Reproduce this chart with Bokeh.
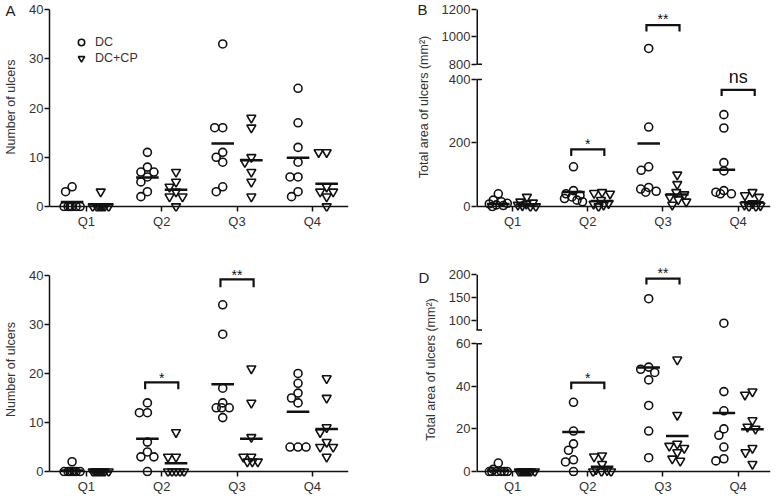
import numpy as np
from bokeh.plotting import figure
from bokeh.models import (Range1d, FixedTicker, Legend, LegendItem, Label, Whisker,
                          TeeHead, ColumnDataSource, Span)
from bokeh.layouts import row, column
from bokeh.core.properties import value
from bokeh.embed import file_html
from bokeh.resources import INLINE

FONT = "Liberation Sans"
INK = "#111111"
TXT = "#333333"

quarters = ["Q1", "Q2", "Q3", "Q4"]
qpos = [1, 2, 3, 4]
series_names = ["DC", "DC+CP"]

# ---------------- Panel A: number of ulcers ----------------
A_dc = [[4, 3, 0, 0, 0, 0, 0, 0],
        [11, 8, 7, 7, 6, 5, 3, 2],
        [33, 16, 16, 11, 10, 9, 4, 3],
        [24, 17, 12, 9, 6, 6, 3, 2]]
A_cp = [[3, 0, 0, 0, 0, 0, 0, 0],
        [7, 5, 4, 3, 2, 2, 0],
        [18, 16, 10, 9, 7, 5, 2],
        [11, 11, 4, 3, 3, 2, 0]]
A_dc_mean = [0.9, 5.9, 12.8, 9.9]
A_cp_mean = [0.4, 3.4, 9.4, 4.6]
A_yticks = [0, 10, 20, 30, 40]

# ---------------- Panel B: total area (mm2) ----------------
B_dc = [[40, 20, 15, 10, 8, 5, 3, 0],
        [125, 50, 40, 35, 30, 25, 20, 15],
        [915, 250, 125, 114, 60, 55, 48, 45],
        [289, 247, 138, 112, 50, 45, 40, 40]]
B_cp = [[30, 15, 12, 8, 5, 3, 0, 0],
        [45, 42, 40, 20, 10, 8, 5, 0],
        [100, 70, 45, 38, 30, 22, 15, 5],
        [45, 35, 30, 10, 5, 3, 0, 0]]
B_dc_mean = [8, 46, 198, 116]
B_cp_mean = [6, 17, 38, 13]
B_yticks = [0, 200, 400, 800, 1000, 1200]
B_sig_q = [2, 3, 4]
B_sig_top = [180, 1086, 367]
B_sig_foot = [159, 1039, 348]
B_sig_text_y = [208, 1154, 405]
B_sig_text = ["*", "**", "ns"]

# ---------------- Panel C: number of ulcers ----------------
C_dc = [[2, 0, 0, 0, 0, 0, 0, 0],
        [14, 12, 12, 6, 4, 3, 3, 0],
        [34, 28, 17, 14, 13, 13, 13, 11],
        [20, 18, 16, 15, 14, 5, 5, 5]]
C_cp = [[0, 0, 0, 0, 0, 0, 0, 0],
        [8, 3, 3, 0, 0, 0, 0, 0],
        [21, 14, 7, 3, 3, 2, 2, 2],
        [19, 15, 9, 8, 6, 5, 5, 3]]
C_dc_mean = [0.2, 6.7, 17.8, 12.2]
C_cp_mean = [0.0, 1.7, 6.7, 8.7]
C_yticks = [0, 10, 20, 30, 40]
C_sig_q = [2, 3]
C_sig_top = [18.2, 39.2]
C_sig_foot = [16.8, 37.6]
C_sig_text_y = [19.8, 40.7]
C_sig_text = ["*", "**"]

# ---------------- Panel D: total area (mm2) ----------------
D_dc = [[4, 1, 0, 0, 0, 0, 0, 0],
        [32.5, 19, 13, 10, 5.5, 4.5, 0],
        [148, 49, 48, 46.5, 43, 31, 19, 6.5],
        [95, 37.5, 28.5, 20, 17, 11.5, 6, 5]]
D_cp = [[0, 0, 0, 0, 0, 0, 0, 0],
        [7.5, 7, 3.5, 1, 0.5, 0, 0, 0],
        [52.5, 26.5, 13, 12, 11, 9, 6, 5],
        [37.5, 36, 24, 21, 20, 11, 9, 3.5]]
D_dc_mean = [0.5, 18.5, 48.8, 27.5]
D_cp_mean = [0.2, 2.3, 16.7, 19.8]
D_yticks = [0, 20, 40, 60, 100, 150, 200]
D_sig_q = [2, 3]
D_sig_top = [41.7, 191.4]
D_sig_foot = [38.6, 178.6]
D_sig_text_y = [45.6, 210.7]
D_sig_text = ["*", "**"]

LAB_COUNT = "Number of ulcers"
LAB_AREA = "Total area of ulcers (mm\u00b2)"


def identity(v):
    return np.asarray(v, dtype=float)


def make_break(lo_top, hi_bot, gap, k):
    def f(v):
        v = np.asarray(v, dtype=float)
        return np.where(v < hi_bot, v, lo_top + gap + (v - hi_bot) * k)
    return f


def swarm(ypix, diam=8.0, cap=9.0, step=0.5):
    ypix = np.asarray(ypix, dtype=float)
    n = len(ypix)
    order = np.argsort(-ypix, kind="stable")
    cands = sorted(np.arange(-cap, cap + 1e-9, step), key=lambda c: (abs(c), c))
    placed = []
    offs = np.zeros(n)
    for i in order:
        best, bestd = 0.0, -1.0
        for c in cands:
            md = min((np.hypot(c - ox, ypix[i] - oy) for ox, oy in placed), default=np.inf)
            if md >= diam:
                best = c
                break
            if md > bestd + 1e-9:
                bestd, best = md, c
        offs[i] = best
        placed.append((best, ypix[i]))
    return offs


def panel(width, height, mbl, mbr, mbt, mbb, xr, zero_px, top_px, tf,
          dc, cp, dc_mean, cp_mean, yticks, ylabel, letter, letter_px, letter_side,
          sig=None, segs=None, legend=False):
    frame_w = width - mbl - mbr
    frame_top = mbt
    frame_bot = height - mbb
    dtop = float(tf([yticks[-1]])[0])
    s = (zero_px - top_px) / dtop
    y0 = -(frame_bot - zero_px) / s
    y1 = dtop + (top_px - frame_top) / s
    sx = frame_w / (xr[1] - xr[0])

    p = figure(width=width, height=height, x_range=Range1d(*xr), y_range=Range1d(y0, y1),
               output_backend="svg", toolbar_location=None,
               min_border_left=mbl, min_border_right=mbr,
               min_border_top=mbt, min_border_bottom=mbb)
    p.xgrid.visible = False
    p.ygrid.visible = False
    p.outline_line_color = None
    p.background_fill_color = "white"
    p.border_fill_color = "white"

    # x axis: line at zero drawn as a span, ticks/labels from the bottom axis
    p.add_layout(Span(location=0, dimension="width", line_color=INK, line_width=1.5))
    xa = p.xaxis[0]
    xa.ticker = FixedTicker(ticks=[float(q) for q in qpos])
    xa.major_label_overrides = {float(q): lab for q, lab in zip(qpos, quarters)}
    xa.axis_line_color = None
    xa.major_tick_in = int(round(frame_bot - zero_px))
    xa.major_tick_out = 0
    xa.major_label_standoff = 2

    ya = p.yaxis[0]
    dt = [float(d) for d in tf(yticks)]
    ya.ticker = FixedTicker(ticks=dt)
    ya.major_label_overrides = {d: str(t) for d, t in zip(dt, yticks)}
    ya.bounds = (0, dtop)
    ya.axis_label = ylabel
    ya.axis_label_standoff = 8
    ya.axis_label_text_font = FONT
    ya.axis_label_text_font_size = "12.5px"
    ya.axis_label_text_font_style = "normal"
    ya.axis_label_text_color = TXT
    ya.axis_line_color = INK
    ya.axis_line_width = 1.5
    ya.major_tick_out = 5
    ya.major_tick_in = 0
    ya.major_label_standoff = 1
    for ax in (xa, ya):
        ax.major_tick_line_color = INK
        ax.major_tick_line_width = 1.5
        ax.minor_tick_line_color = None
        ax.major_label_text_font = FONT
        ax.major_label_text_font_size = "13px"
        ax.major_label_text_color = TXT

    if segs is not None:
        ya.axis_line_color = None
        for lo, hi, lo_cap, hi_cap in segs:
            src = ColumnDataSource(dict(base=[xr[0]], lower=[float(tf([lo])[0])],
                                        upper=[float(tf([hi])[0])]))
            head = lambda: TeeHead(size=11, line_width=1.5, line_color=INK)
            w = Whisker(source=src, base="base", lower="lower", upper="upper",
                        dimension="height", line_color=INK, line_width=3,
                        lower_head=head() if lo_cap else None,
                        upper_head=head() if hi_cap else None)
            p.add_layout(w)

    rends = []
    for vals, off, marker, msize in [(dc, -0.19, "circle", 8), (cp, 0.19, "inverted_triangle", 9)]:
        xs, ys = [], []
        for qi, group in enumerate(vals):
            d = tf(group)
            offs = swarm(d * s)
            xs += list(qpos[qi] + off + offs / sx)
            ys += list(d)
        r = p.scatter(xs, ys, marker=marker, size=msize, fill_color=None,
                      line_color=INK, line_width=1.6)
        rends.append(r)

    for means, off in [(dc_mean, -0.19), (cp_mean, 0.19)]:
        dm = tf(means)
        p.segment(x0=[q + off - 0.15 for q in qpos], y0=dm,
                  x1=[q + off + 0.15 for q in qpos], y1=dm,
                  line_color=INK, line_width=2.5)

    if sig is not None:
        sq, stop, sfoot, sty, stxt = sig
        xs = [[q - 0.22, q - 0.22, q + 0.22, q + 0.22] for q in sq]
        ys = [[float(tf([f])[0]), float(tf([t])[0]), float(tf([t])[0]), float(tf([f])[0])]
              for t, f in zip(stop, sfoot)]
        p.multi_line(xs, ys, line_color=INK, line_width=2.2, line_join="miter")
        fs = ["18px" if t == "ns" else "14px" for t in stxt]
        yoff = [-1.3 if t == "ns" else 3.5 for t in stxt]
        src = ColumnDataSource(dict(x=[float(q) for q in sq], y=[float(v) for v in tf(sty)],
                                    text=stxt, fs=fs, yoff=yoff))
        p.text(x="x", y="y", text="text", source=src, text_font=value(FONT),
               text_font_size="fs", y_offset="yoff", text_align="center",
               text_baseline="middle", text_color=INK)

    if legend:
        lg = Legend(items=[LegendItem(label=series_names[0], renderers=[rends[0]]),
                           LegendItem(label=series_names[1], renderers=[rends[1]])],
                    location=(22, 145), glyph_width=20, glyph_height=16,
                    label_height=16, spacing=0, padding=0, margin=0,
                    label_standoff=4, label_text_font=FONT,
                    label_text_font_size="12.5px", label_text_color=TXT,
                    border_line_color=None, background_fill_alpha=0)
        p.add_layout(lg)

    if letter:
        lx = xr[0] + letter_px[0] / sx
        ly = y1 - (letter_px[1] - frame_top) / s
        p.add_layout(Label(x=lx, y=ly, text=letter, text_font=FONT, text_font_size="15px",
                           text_color="#222222", text_align="left", text_baseline="middle"),
                     letter_side)
    return p


LEFT = dict(width=388, mbl=49, mbr=40, xr=(0.51, 4.48))
RIGHT = dict(width=389, mbl=88, mbr=7, xr=(0.52, 4.43))
TOP = dict(height=248, mbt=2, mbb=37)
BOT = dict(height=248, mbt=14, mbb=18)

brk_B = make_break(400, 800, 48, 0.43)
brk_D = make_break(60, 80, 6.36, 0.2167)

pA = panel(**LEFT, **TOP, zero_px=206, top_px=9, tf=identity,
           dc=A_dc, cp=A_cp, dc_mean=A_dc_mean, cp_mean=A_cp_mean,
           yticks=A_yticks, ylabel=LAB_COUNT, letter="A", letter_px=(-44, 10),
           letter_side="right", legend=True)
pB = panel(**RIGHT, **TOP, zero_px=206, top_px=9, tf=brk_B,
           dc=B_dc, cp=B_cp, dc_mean=B_dc_mean, cp_mean=B_cp_mean,
           yticks=B_yticks, ylabel=LAB_AREA, letter="B", letter_px=(-59, 9),
           letter_side="left",
           sig=(B_sig_q, B_sig_top, B_sig_foot, B_sig_text_y, B_sig_text),
           segs=[(0, 400, False, True), (800, 1200, True, False)])
pC = panel(**LEFT, **BOT, zero_px=225, top_px=27, tf=identity,
           dc=C_dc, cp=C_cp, dc_mean=C_dc_mean, cp_mean=C_cp_mean,
           yticks=C_yticks, ylabel=LAB_COUNT, letter="", letter_px=(0, 0),
           letter_side="left",
           sig=(C_sig_q, C_sig_top, C_sig_foot, C_sig_text_y, C_sig_text))
pD = panel(**RIGHT, **BOT, zero_px=225, top_px=26.3, tf=brk_D,
           dc=D_dc, cp=D_cp, dc_mean=D_dc_mean, cp_mean=D_cp_mean,
           yticks=D_yticks, ylabel=LAB_AREA, letter="D", letter_px=(-58, 29.5),
           letter_side="left",
           sig=(D_sig_q, D_sig_top, D_sig_foot, D_sig_text_y, D_sig_text),
           segs=[(0, 60, False, True), (80, 200, True, False)])

layout = column(row(pA, pB), row(pC, pD))
open("out.html", "w").write(file_html(layout, INLINE))
